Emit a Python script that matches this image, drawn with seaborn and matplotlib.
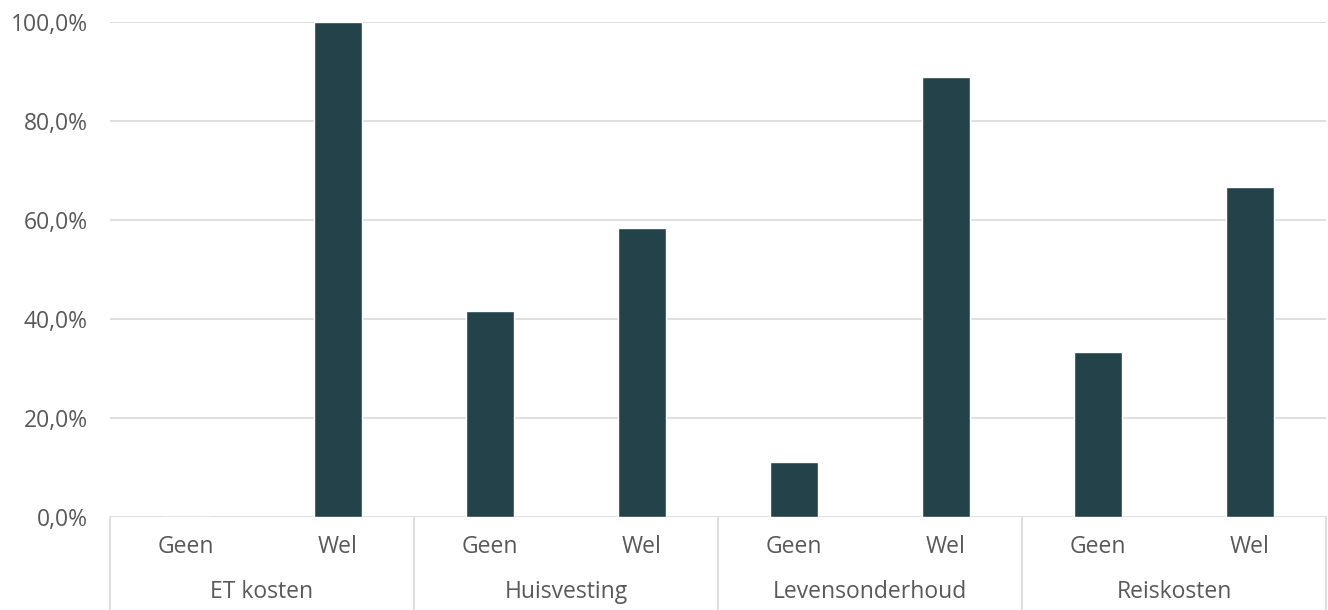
import matplotlib
matplotlib.use("Agg")
import matplotlib.pyplot as plt
import matplotlib.transforms as mtransforms
import seaborn as sns
import pandas as pd

categories = ["ET kosten", "Huisvesting", "Levensonderhoud", "Reiskosten"]
subcats = ["Geen", "Wel"]
values = [0.0, 100.0, 41.7, 58.3, 11.1, 88.9, 33.3, 66.7]
yticks = [0, 20, 40, 60, 80, 100]
ytick_labels = ["0,0%", "20,0%", "40,0%", "60,0%", "80,0%", "100,0%"]

sns.set_style("white")
plt.rcParams["font.family"] = ["Open Sans", "DejaVu Sans"]
text_color = "#595959"
grid_color = "#d9d9d9"
bar_color = "#24424a"
fs = 16.5
fw = "normal"

keys = [f"{c}|{s}" for c in categories for s in subcats]
df = pd.DataFrame({"key": keys, "value": values})

W, H = 1328, 610
fig = plt.figure(figsize=(W / 100, H / 100), dpi=100)
ax = fig.add_axes([110 / W, (H - 517) / H, (1326 - 110) / W, (517 - 22) / H])

sns.barplot(data=df, x="key", y="value", order=keys, color=bar_color,
            width=0.31, saturation=1, ax=ax, zorder=3)

ax.set_xlim(-0.5, len(keys) - 0.5)
ax.set_ylim(0, 100)
ax.set_yticks(yticks)
ax.set_yticklabels(ytick_labels, fontsize=fs, color=text_color, fontweight=fw)
ax.tick_params(axis="y", length=0, pad=16)
ax.set_xticks([])
ax.set_xlabel("")
ax.set_ylabel("")
for s in ax.spines.values():
    s.set_visible(False)
for y in yticks:
    ax.axhline(y, color=grid_color, lw=1.2, zorder=1)

# multi-level category axis
trans = mtransforms.blended_transform_factory(ax.transData, fig.transFigure)
y0 = (H - 517) / H
for i, k in enumerate(keys):
    ax.text(i, (H - 547) / H, k.split("|")[1], transform=trans, ha="center",
            va="center", fontsize=fs, color=text_color, fontweight=fw)
for j, c in enumerate(categories):
    ax.text(2 * j + 0.5, (H - 592) / H, c, transform=trans, ha="center",
            va="center", fontsize=fs, color=text_color, fontweight=fw)
for xs in [-0.5, 1.5, 3.5, 5.5, 7.5]:
    ax.plot([xs, xs], [y0, 0], transform=trans, color=grid_color, lw=1.2,
            clip_on=False)

fig.savefig("out.png", dpi=100, facecolor="white")
